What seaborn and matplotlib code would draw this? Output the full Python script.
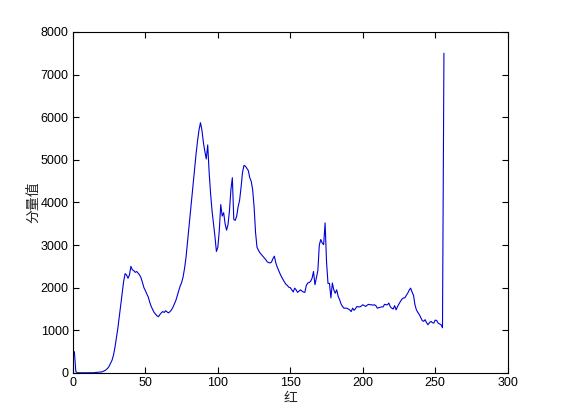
import numpy as np
import pandas as pd
import matplotlib
matplotlib.use("Agg")
import matplotlib.pyplot as plt
import seaborn as sns

# Red-channel histogram counts for intensity levels 1..256
levels = list(range(1, 257))
counts = [
    500, 30, 8, 5, 5, 5, 5, 5, 5, 5, 5, 5, 5, 5, 8, 10, 15, 15, 20, 25,
    40, 55, 80, 110, 160, 230, 300, 420, 600, 820, 1050, 1330, 1600, 1900, 2150, 2330, 2300, 2220, 2300, 2500,
    2420, 2400, 2360, 2380, 2340, 2300, 2230, 2120, 2000, 1930, 1850, 1780, 1660, 1560, 1490, 1420, 1380, 1340, 1320, 1370,
    1410, 1440, 1420, 1460, 1430, 1410, 1440, 1480, 1540, 1620, 1700, 1810, 1930, 2040, 2120, 2250, 2450, 2700, 3050, 3400,
    3750, 4100, 4450, 4820, 5150, 5450, 5700, 5870, 5700, 5410, 5200, 5020, 5350, 4700, 4200, 3800, 3500, 3200, 2850, 2950,
    3350, 3950, 3680, 3760, 3500, 3350, 3480, 3800, 4300, 4580, 3600, 3580, 3680, 3900, 4050, 4350, 4700, 4870, 4850, 4800,
    4750, 4580, 4500, 4300, 3900, 3300, 2950, 2880, 2820, 2780, 2740, 2700, 2660, 2610, 2590, 2580, 2600, 2680, 2740, 2580,
    2480, 2400, 2320, 2250, 2190, 2130, 2080, 2050, 2010, 2000, 1950, 1900, 1990, 1950, 1890, 1920, 1950, 1920, 1900, 1890,
    2050, 2110, 2120, 2150, 2220, 2380, 2070, 2230, 2400, 3000, 3130, 3050, 3010, 3520, 2600, 2100, 2100, 1760, 2110, 1950,
    1870, 1950, 1800, 1720, 1620, 1560, 1520, 1520, 1520, 1500, 1480, 1440, 1520, 1470, 1510, 1560, 1550, 1550, 1570, 1600,
    1580, 1560, 1590, 1610, 1600, 1600, 1590, 1600, 1580, 1520, 1530, 1540, 1550, 1550, 1610, 1600, 1600, 1640, 1550, 1520,
    1500, 1580, 1480, 1560, 1620, 1680, 1730, 1760, 1760, 1820, 1870, 1940, 1990, 1900, 1820, 1600, 1480, 1420, 1370, 1300,
    1230, 1210, 1250, 1180, 1130, 1180, 1210, 1180, 1170, 1240, 1230, 1170, 1150, 1130, 1060, 7500,
]

x_ticks = [0, 50, 100, 150, 200, 250, 300]
y_ticks = [0, 1000, 2000, 3000, 4000, 5000, 6000, 7000, 8000]
x_label = "红"
y_label = "分量值"

sns.set_style("white")
plt.rcParams['font.family'] = ['Liberation Sans', 'Noto Sans CJK SC', 'DejaVu Sans']

df = pd.DataFrame({"level": levels, "count": counts})

fig = plt.figure(figsize=(5.61, 4.20), dpi=100)
ax = fig.add_axes([0.13, 0.112, 0.775, 0.812])
sns.lineplot(data=df, x="level", y="count", ax=ax, color="#0000d8", linewidth=0.8)

ax.set_xlim(0, 300)
ax.set_ylim(0, 8000)
ax.set_xticks(x_ticks)
ax.set_yticks(y_ticks)
ax.set_xticklabels([str(t) for t in x_ticks], fontsize=9)
ax.set_yticklabels([str(t) for t in y_ticks], fontsize=9)
ax.tick_params(direction="in", length=4, width=0.8, top=True, right=True,
               bottom=True, left=True, colors="black", pad=3)
for s in ax.spines.values():
    s.set_visible(True)
    s.set_color("black")
    s.set_linewidth(0.8)
ax.set_xlabel(x_label, fontsize=10, family=['Noto Sans CJK SC', 'DejaVu Sans'], labelpad=1)
ax.set_ylabel(y_label, fontsize=10, family=['Noto Sans CJK SC', 'DejaVu Sans'])
ax.yaxis.set_label_coords(-0.076, 0.5)
ax.grid(False)

fig.savefig("out.png", dpi=100, facecolor="white")
